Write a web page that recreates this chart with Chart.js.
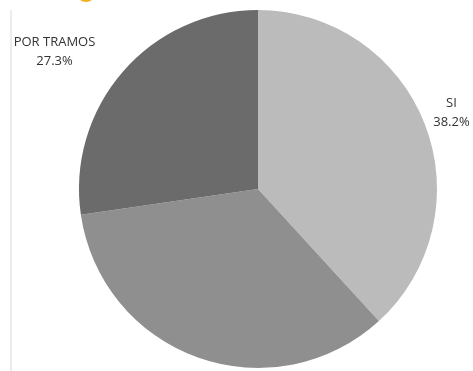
<!DOCTYPE html>
<html>
<head>
<meta charset="utf-8">
<script src="https://cdn.jsdelivr.net/npm/chart.js@4/dist/chart.umd.min.js"></script>
<style>
  html, body { margin: 0; padding: 0; background: #fff; }
  #wrap { width: 473px; height: 371px; position: relative; }
</style>
</head>
<body>
<div id="wrap"><canvas id="pie"></canvas></div>
<script>
// slices, clockwise from 12 o'clock
const labels = ['SI', 'NO', 'POR TRAMOS'];
const values = [38.2, 34.5, 27.3];
const colors = ['#bbbbbb', '#8f8f8f', '#6b6b6b'];
const showLabel = [true, false, true];

// outside labels, placed from each arc's own geometry
const labelShift = [[8, -4], [0, 0], [-53, -7]];
const outsideLabels = {
  id: 'outsideLabels',
  afterDatasetsDraw(chart) {
    const ctx = chart.ctx;
    const meta = chart.getDatasetMeta(0);
    ctx.save();
    ctx.font = '13px "Open Sans", sans-serif';
    ctx.fillStyle = '#333333';
    ctx.textAlign = 'center';
    ctx.textBaseline = 'middle';
    meta.data.forEach((arc, i) => {
      if (!showLabel[i]) return;
      const mid = (arc.startAngle + arc.endAngle) / 2;
      const d = arc.outerRadius + 20;
      const x = arc.x + Math.cos(mid) * d + labelShift[i][0];
      const y = arc.y + Math.sin(mid) * d + labelShift[i][1];
      ctx.fillText(labels[i], x, y - 9.5);
      ctx.fillText(values[i].toFixed(1) + '%', x, y + 9.5);
    });
    ctx.restore();
  }
};

// page decoration: thin rule at left and the orange badge cut at the top
const decor = {
  id: 'decor',
  beforeDraw(chart) {
    const ctx = chart.ctx;
    ctx.save();
    ctx.fillStyle = '#ececec';
    ctx.fillRect(10, 10, 2, chart.height - 10);
    ctx.fillStyle = '#f2b01e';
    ctx.beginPath();
    ctx.arc(86, -8, 10, 0, Math.PI * 2);
    ctx.fill();
    ctx.restore();
  }
};

new Chart(document.getElementById('pie'), {
  type: 'pie',
  data: {
    labels: labels,
    datasets: [{
      data: values,
      backgroundColor: colors,
      borderWidth: 0
    }]
  },
  options: {
    responsive: true,
    maintainAspectRatio: false,
    animation: false,
    layout: { padding: { left: 79, right: 36, top: 10, bottom: 3 } },
    plugins: {
      legend: { display: false },
      tooltip: { enabled: false }
    }
  },
  plugins: [decor, outsideLabels]
});
</script>
</body>
</html>
